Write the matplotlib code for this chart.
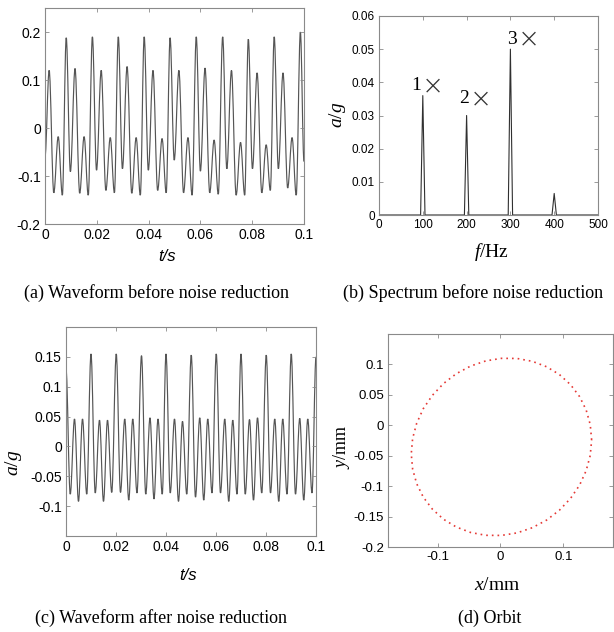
import numpy as np
import matplotlib
matplotlib.use("Agg")
import matplotlib.pyplot as plt
from matplotlib.path import Path
from matplotlib.patches import PathPatch

plt.rcParams["font.family"] = ["Liberation Sans", "DejaVu Sans"]
plt.rcParams["mathtext.fontset"] = "custom"
plt.rcParams["mathtext.rm"] = "Liberation Serif"
plt.rcParams["mathtext.it"] = "Liberation Serif:italic"

# (a) waveform before noise reduction: extrema of each 0.01 s period
a_peak_t = [0.0082, 0.0183, 0.0283, 0.0383, 0.0483, 0.0584, 0.0686, 0.0785, 0.0885]
a_offsets = [0.0, 0.0016, 0.0034, 0.0052, 0.0069, 0.0085]
a_vals = [
    [0.188, -0.091, 0.124, -0.136, -0.018, -0.140],
    [0.190, -0.088, 0.120, -0.130, -0.020, -0.135],
    [0.190, -0.085, 0.128, -0.136, -0.020, -0.140],
    [0.190, -0.088, 0.120, -0.130, -0.022, -0.135],
    [0.188, -0.067, 0.120, -0.135, -0.020, -0.140],
    [0.190, -0.090, 0.125, -0.135, -0.025, -0.138],
    [0.190, -0.085, 0.120, -0.140, -0.030, -0.140],
    [0.185, -0.085, 0.115, -0.135, -0.035, -0.130],
    [0.190, -0.085, 0.115, -0.125, -0.020, -0.140],
]
a_head_t = [0.0, 0.0016, 0.0034, 0.0051, 0.0067]
a_head_v = [-0.06, 0.120, -0.135, -0.018, -0.140]
a_tail_t = [0.0986, 0.1]
a_tail_v = [0.200, -0.07]

# (b) spectrum before noise reduction
b_freq = [0, 95, 100, 105, 195, 200, 205, 295, 300, 305, 395, 400, 405, 500]
b_amp = [0, 0, 0.036, 0, 0, 0.030, 0, 0, 0.050, 0, 0, 0.0065, 0, 0]
b_orders = ["1", "2", "3"]
b_label_f = [95, 206, 315]
b_label_a = [0.039, 0.035, 0.053]

# (c) waveform after noise reduction
c_peak_t = [0.0, 0.0100, 0.0201, 0.0302, 0.0400, 0.0501, 0.0601, 0.0700, 0.0801, 0.0901]
c_offsets = [0.0, 0.0017, 0.0034, 0.0050, 0.0066, 0.0083]
c_vals = [
    [0.130, -0.080, 0.046, -0.092, 0.046, -0.080],
    [0.155, -0.078, 0.044, -0.092, 0.044, -0.077],
    [0.155, -0.077, 0.046, -0.090, 0.046, -0.078],
    [0.152, -0.080, 0.048, -0.088, 0.046, -0.080],
    [0.155, -0.078, 0.046, -0.092, 0.042, -0.080],
    [0.153, -0.085, 0.048, -0.090, 0.046, -0.078],
    [0.155, -0.078, 0.046, -0.092, 0.044, -0.080],
    [0.155, -0.080, 0.045, -0.090, 0.048, -0.078],
    [0.153, -0.078, 0.046, -0.092, 0.046, -0.080],
    [0.155, -0.080, 0.047, -0.090, 0.046, -0.078],
]
c_tail_t = [0.1]
c_tail_v = [0.150]

# (d) orbit, points read every 10 degrees
d_x = [0.1450, 0.1428, 0.1363, 0.1258, 0.1114, 0.0937, 0.0733, 0.0506, 0.0264, 0.0015,
       -0.0234, -0.0476, -0.0703, -0.0907, -0.1084, -0.1228, -0.1333, -0.1398, -0.1420,
       -0.1398, -0.1333, -0.1228, -0.1084, -0.0907, -0.0703, -0.0476, -0.0234, 0.0015,
       0.0264, 0.0506, 0.0733, 0.0937, 0.1114, 0.1258, 0.1363, 0.1428, 0.1450]
d_y = [-0.0240, 0.0011, 0.0251, 0.0472, 0.0668, 0.0834, 0.0962, 0.1051, 0.1098, 0.1100,
       0.1058, 0.0973, 0.0848, 0.0686, 0.0492, 0.0274, 0.0035, -0.0215, -0.0470,
       -0.0721, -0.0961, -0.1182, -0.1378, -0.1544, -0.1672, -0.1761, -0.1808, -0.1810,
       -0.1768, -0.1683, -0.1558, -0.1396, -0.1202, -0.0984, -0.0745, -0.0495, -0.0240]


def series(head_t, head_v, peak_t, offsets, vals, tail_t, tail_v):
    t = np.add.outer(np.array(peak_t), np.array(offsets)).ravel()
    v = np.array(vals).ravel()
    return (np.concatenate([head_t, t, tail_t]), np.concatenate([head_v, v, tail_v]))


def smooth_path(t, v):
    # cubic segments with flat tangents at every extremum
    verts = [(t[0], v[0])]
    codes = [Path.MOVETO]
    for i in range(1, len(t)):
        dt = t[i] - t[i - 1]
        verts += [(t[i - 1] + 0.36 * dt, v[i - 1]), (t[i] - 0.36 * dt, v[i]), (t[i], v[i])]
        codes += [Path.CURVE4] * 3
    return Path(verts, codes)


def style(ax, fs=9.5):
    for s in ax.spines.values():
        s.set_color("#8a8a8a")
        s.set_linewidth(0.8)
    ax.tick_params(direction="in", length=3, width=0.6, color="#8a8a8a",
                   top=True, right=True, labelsize=fs, pad=3)


W, H = 614, 632
fig = plt.figure(figsize=(W / 100, H / 100), dpi=100)


def box(l, t, r, b):
    return [l / W, 1 - b / H, (r - l) / W, (b - t) / H]


serif = ["Liberation Serif", "DejaVu Serif"]
wave = dict(fill=False, edgecolor="#555555", lw=0.85)

# (a)
ax = fig.add_axes(box(45, 8, 304, 224))
ta, va = series(a_head_t, a_head_v, a_peak_t, a_offsets, a_vals, a_tail_t, a_tail_v)
ax.add_patch(PathPatch(smooth_path(ta, va), **wave))
ax.set_xlim(0, 0.1)
ax.set_ylim(-0.2, 0.25)
ax.set_xticks([0, 0.02, 0.04, 0.06, 0.08, 0.1])
ax.set_xticklabels(["0", "0.02", "0.04", "0.06", "0.08", "0.1"])
ax.set_yticks([-0.2, -0.1, 0, 0.1, 0.2])
ax.set_yticklabels(["-0.2", "-0.1", "0", "0.1", "0.2"])
style(ax, 10)
fig.text(167 / W, 1 - 257 / H, "t/s", ha="center", va="center", fontsize=12, style="italic")

# (b)
ax = fig.add_axes(box(379, 16, 598, 215))
ax.plot(b_freq, b_amp, color="#303030", lw=0.8)
for n, f, a in zip(b_orders, b_label_f, b_label_a):
    ax.text(f, a, n, ha="right", va="center", fontsize=14, family=serif)
    ax.text(f + 2, a, "\u00d7", ha="left", va="center", fontsize=19,
            family=["DejaVu Sans"], fontweight="light", color="#333333")
ax.set_xlim(0, 500)
ax.set_ylim(0, 0.06)
ax.set_xticks([0, 100, 200, 300, 400, 500])
ax.set_yticks([0, 0.01, 0.02, 0.03, 0.04, 0.05, 0.06])
ax.set_yticklabels(["0", "0.01", "0.02", "0.03", "0.04", "0.05", "0.06"])
style(ax, 8.5)
fig.text(338 / W, 1 - 115 / H, "$\\mathit{a}/\\mathit{g}$", ha="center", va="center",
         fontsize=14, rotation=90)
fig.text(492 / W, 1 - 252 / H, "$\\mathit{f}\\mathrm{/Hz}$", ha="center", va="center",
         fontsize=14)

# (c)
ax = fig.add_axes(box(66, 327, 316, 536))
tc, vc = series([], [], c_peak_t, c_offsets, c_vals, c_tail_t, c_tail_v)
ax.add_patch(PathPatch(smooth_path(tc, vc), **wave))
ax.set_xlim(0, 0.1)
ax.set_ylim(-0.15, 0.2)
ax.set_xticks([0, 0.02, 0.04, 0.06, 0.08, 0.1])
ax.set_xticklabels(["0", "0.02", "0.04", "0.06", "0.08", "0.1"])
ax.set_yticks([-0.1, -0.05, 0, 0.05, 0.1, 0.15])
ax.set_yticklabels(["-0.1", "-0.05", "0", "0.05", "0.1", "0.15"])
style(ax, 10)
fig.text(13 / W, 1 - 463 / H, "$\\mathit{a}/\\mathit{g}$", ha="center", va="center",
         fontsize=14, rotation=90)
fig.text(188 / W, 1 - 575 / H, "t/s", ha="center", va="center", fontsize=12, style="italic")

# (d)
ax = fig.add_axes(box(388, 334, 613, 547))
ax.plot(d_x, d_y, color="#e53935", lw=1.2, linestyle=(0, (1, 2.4)))
ax.set_xlim(-0.179, 0.179)
ax.set_ylim(-0.2, 0.15)
ax.set_xticks([-0.1, 0, 0.1])
ax.set_xticklabels(["-0.1", "0", "0.1"])
ax.set_yticks([-0.2, -0.15, -0.1, -0.05, 0, 0.05, 0.1])
ax.set_yticklabels(["-0.2", "-0.15", "-0.1", "-0.05", "0", "0.05", "0.1"])
style(ax, 9.5)
fig.text(342 / W, 1 - 447 / H, "$\\mathit{y}\\mathrm{/mm}$", ha="center", va="center",
         fontsize=13, rotation=90)
fig.text(497 / W, 1 - 585 / H, "$\\mathit{x}\\mathrm{/mm}$", ha="center", va="center",
         fontsize=14)

# captions
cap = dict(ha="center", va="center", fontsize=13, family=serif)
fig.text(157 / W, 1 - 293 / H, "(a) Waveform before noise reduction", **cap)
fig.text(473 / W, 1 - 293 / H, "(b) Spectrum before noise reduction", **cap)
fig.text(161 / W, 1 - 618 / H, "(c) Waveform after noise reduction", **cap)
fig.text(490 / W, 1 - 618 / H, "(d) Orbit", **cap)

fig.savefig("out.png", dpi=100)
